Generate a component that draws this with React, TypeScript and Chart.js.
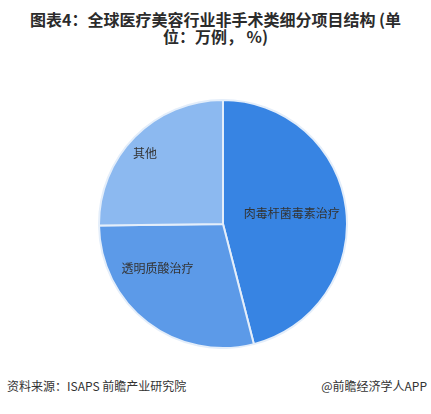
import React, { useEffect, useRef } from 'react';
import { Chart, registerables, ArcElement } from 'chart.js';

Chart.register(...registerables);

// slice order: clockwise from 12 o'clock
const categories = ['肉毒杆菌毒素治疗', '透明质酸治疗', '其他'];
const shares = [46.0, 28.8, 25.2];

const sliceColors = ['#3784e3', '#5c9ae8', '#8cb9f0'];
// label placement inside each slice: radius factor and angle nudge (degrees)
const labelRadius = [0.56, 0.64, 0.85];
const labelNudge = [-1.4, 18.2, -2.3];

const FONT = '"Noto Sans CJK SC", "Noto Sans", sans-serif';

const sliceLabels = {
  id: 'sliceLabels',
  afterDatasetsDraw(chart: Chart) {
    const { ctx } = chart;
    const meta = chart.getDatasetMeta(0);
    ctx.save();
    ctx.font = `12px ${FONT}`;
    ctx.fillStyle = '#333333';
    ctx.textAlign = 'center';
    ctx.textBaseline = 'middle';
    meta.data.forEach((el, i) => {
      const arc = el as unknown as ArcElement;
      const { x, y, startAngle, endAngle, outerRadius } = arc.getProps(
        ['x', 'y', 'startAngle', 'endAngle', 'outerRadius'],
        true
      ) as any;
      const mid = (startAngle + endAngle) / 2 + (labelNudge[i] * Math.PI) / 180;
      const r = outerRadius * labelRadius[i];
      ctx.fillText(categories[i], x + r * Math.cos(mid), y + r * Math.sin(mid));
    });
    ctx.restore();
  },
};

const PieChart: React.FC = () => {
  const canvasRef = useRef<HTMLCanvasElement | null>(null);

  useEffect(() => {
    if (!canvasRef.current) return;
    const chart = new Chart(canvasRef.current, {
      type: 'pie',
      data: {
        labels: categories,
        datasets: [
          {
            data: shares,
            backgroundColor: sliceColors,
            borderColor: '#e4eefa',
            borderWidth: 2,
          },
        ],
      },
      options: {
        responsive: true,
        maintainAspectRatio: false,
        animation: false,
        layout: { padding: 0 },
        plugins: {
          legend: { display: false },
          tooltip: { enabled: false },
          title: { display: false },
        },
      },
      plugins: [sliceLabels],
    });
    return () => {
      chart.destroy();
    };
  }, []);

  return <canvas ref={canvasRef} />;
};

export default function App() {
  return (
    <div
      style={{
        position: 'absolute',
        left: 0,
        top: 0,
        width: 431,
        height: 414,
        background: '#ffffff',
        fontFamily: FONT,
        color: '#333333',
        overflow: 'hidden',
      }}
    >
      <div
        style={{
          position: 'absolute',
          top: 11,
          left: 0,
          width: 431,
          textAlign: 'center',
          fontWeight: 'bold',
          fontSize: 16,
          lineHeight: '17px',
          color: '#2b2b2b',
        }}
      >
        图表4：全球医疗美容行业非手术类细分项目结构 (单
        <br />
        位：万例， %)
      </div>
      <div
        style={{
          position: 'absolute',
          left: 97.5,
          top: 99.3,
          width: 250,
          height: 250,
        }}
      >
        <PieChart />
      </div>
      <div
        style={{
          position: 'absolute',
          left: 7,
          top: 378,
          fontSize: 12,
          lineHeight: '16px',
          whiteSpace: 'nowrap',
        }}
      >
        资料来源：ISAPS 前瞻产业研究院
      </div>
      <div
        style={{
          position: 'absolute',
          right: 4,
          top: 378,
          fontSize: 12,
          lineHeight: '16px',
          whiteSpace: 'nowrap',
        }}
      >
        @前瞻经济学人APP
      </div>
    </div>
  );
}
